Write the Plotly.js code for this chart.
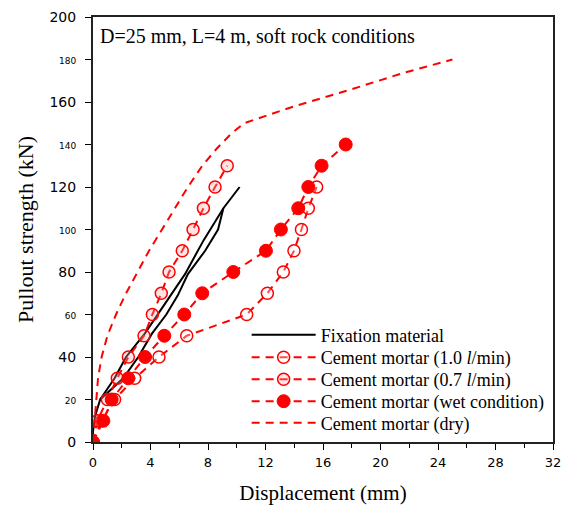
<!DOCTYPE html>
<html>
<head>
<meta charset="utf-8">
<script src="https://cdn.plot.ly/plotly-3.0.1.min.js"></script>
<style>html,body{margin:0;padding:0;background:#fff}#chart{width:562px;height:508px}</style>
</head>
<body>
<div id="chart"></div>
<script>
// Fixation material (two branches of the same curve)
var fixAX = [0, 0, 0.14, 0.5, 1.5, 2.3, 3.6, 5.0, 6.4, 7.7, 9.07, 10.2];
var fixAY = [0, 5, 12, 20, 30, 40, 51, 65, 79, 95, 110, 120];
var fixBX = [0.5, 1.3, 2.1, 3.15, 4.1, 5.1, 5.9, 6.6, 7.8, 8.7, 9.07];
var fixBY = [20, 25, 30, 40, 51, 60, 69, 79, 90, 100, 110];

// Cement mortar (1.0 l/min)
var m10X = [0, 0.6, 1.5, 2.9, 4.59, 6.52, 10.69, 12.13, 13.24, 13.98, 14.5, 14.98, 15.56];
var m10Y = [0, 10, 20, 30, 40, 50, 60, 70, 80, 90, 100, 110, 120];

// Cement mortar (0.7 l/min)
var m07X = [0, 0.3, 1.0, 1.69, 2.46, 3.55, 4.13, 4.75, 5.29, 6.21, 6.96, 7.68, 8.49, 9.34];
var m07Y = [0, 10, 20, 30, 40, 50, 60, 70, 80, 90, 100, 110, 120, 130];

// Cement mortar (wet condition)
var wetX = [0, 0.72, 1.3, 2.46, 3.62, 4.96, 6.35, 7.6, 9.76, 12.03, 13.07, 14.28, 14.98, 15.9, 17.58];
var wetY = [0, 10, 20, 30, 40, 50, 60, 70, 80, 90, 100, 110, 120, 130, 140];

// Cement mortar (dry)
var dryX = [0, 0.1, 0.2, 0.35, 0.6, 1.0, 1.6, 2.3, 3.1, 3.9, 4.8, 5.7, 6.6, 7.6, 8.6, 9.6, 10.5, 14, 18, 21.5, 25];
var dryY = [0, 10, 20, 30, 40, 50, 60, 70, 80, 90, 100, 110, 120, 130, 138, 145, 150, 158, 166, 173.5, 180];

var seriesNames = ['Fixation material', 'Cement mortar (1.0 <i>l</i>/min)', 'Cement mortar (0.7 <i>l</i>/min)',
                   'Cement mortar (wet condition)', 'Cement mortar (dry)'];

var yTickVals = [0, 20, 40, 60, 80, 100, 120, 140, 160, 180, 200];
var yTickText = ['0','20','40','60','80','100','120','140','160','180','200'];
var yMajor = [0, 40, 80, 120, 160, 200];
var xTickVals = [0, 4, 8, 12, 16, 20, 24, 28, 32];

var serif = 'Liberation Serif, Times New Roman, serif';
var sans = 'DejaVu Sans, Arial, sans-serif';
var red = '#ff0000';
var dashPat = '8px,6px';

var fixX = fixAX.concat([null], fixBX);
var fixY = fixAY.concat([null], fixBY);

var traces = [
  {x: fixX, y: fixY, mode: 'lines', name: seriesNames[0], legend: 'legend',
   line: {color: '#000', width: 2}, connectgaps: false},
  {x: m10X, y: m10Y, mode: 'lines+markers', name: seriesNames[1], legend: 'legend2',
   line: {color: red, width: 2, dash: dashPat},
   marker: {symbol: 'circle', size: 12, color: 'rgba(255,255,255,0.3)', line: {color: red, width: 1.5}}},
  {x: m07X, y: m07Y, mode: 'lines+markers', name: seriesNames[2], legend: 'legend3',
   line: {color: red, width: 2, dash: dashPat},
   marker: {symbol: 'circle', size: 12, color: 'rgba(255,170,170,0.3)', line: {color: red, width: 1.5}}},
  {x: wetX, y: wetY, mode: 'lines+markers', name: seriesNames[3], legend: 'legend4',
   line: {color: red, width: 2, dash: dashPat},
   marker: {symbol: 'circle', size: 13, color: red, line: {color: red, width: 1}}},
  {x: dryX, y: dryY, mode: 'lines', name: seriesNames[4], legend: 'legend5',
   line: {color: red, width: 2, dash: dashPat}}
];

var plotTop = 17, plotH = 425;
function legendAt(yc) {
  return {x: 0.334, y: (plotTop + plotH - yc) / plotH, xanchor: 'left', yanchor: 'middle',
          bgcolor: 'rgba(0,0,0,0)', borderwidth: 0, itemwidth: 64,
          font: {family: serif, size: 18, color: '#000'}};
}

var layout = {
  width: 562, height: 508,
  margin: {l: 93, r: 9, t: 17, b: 66},
  paper_bgcolor: '#fff', plot_bgcolor: '#fff',
  showlegend: true,
  legend: legendAt(335),
  legend2: legendAt(357.5),
  legend3: legendAt(379.5),
  legend4: legendAt(401.5),
  legend5: legendAt(423),
  xaxis: {range: [0, 32], tickmode: 'array', tickvals: xTickVals,
          ticks: 'outside', ticklen: 6, tickwidth: 1, tickcolor: '#000',
          minor: {dtick: 2, ticks: 'outside', ticklen: 4, tickwidth: 1, tickcolor: '#000'},
          showline: true, linecolor: '#222', linewidth: 2, mirror: true,
          showgrid: false, zeroline: false, ticklabelstandoff: 1,
          tickfont: {family: sans, size: 13, color: '#000'},
          title: {text: 'Displacement (mm)', font: {family: serif, size: 21, color: '#000'}, standoff: 17}},
  yaxis: {range: [0, 200], tickmode: 'array', tickvals: yTickVals,
          ticktext: yTickText.map(function(t, i){
            return yMajor.indexOf(yTickVals[i]) >= 0 ? t : '<span style="font-size:9px">' + t + '</span>';
          }),
          ticks: 'outside', ticklen: 6, tickwidth: 1, tickcolor: '#000',
          showline: true, linecolor: '#222', linewidth: 2, mirror: true,
          showgrid: false, zeroline: false, ticklabelstandoff: 6,
          tickfont: {family: sans, size: 14, color: '#000'},
          title: {text: 'Pullout strength (kN)', font: {family: serif, size: 22, color: '#000'}, standoff: 10}},
  annotations: [{xref: 'paper', yref: 'paper', x: 0.01, y: 0.985, xanchor: 'left', yanchor: 'top',
                 showarrow: false, text: 'D=25 mm, L=4 m, soft rock conditions',
                 font: {family: serif, size: 20, color: '#000'}}]
};

Plotly.newPlot('chart', traces, layout, {displayModeBar: false, staticPlot: true});
</script>
</body>
</html>
